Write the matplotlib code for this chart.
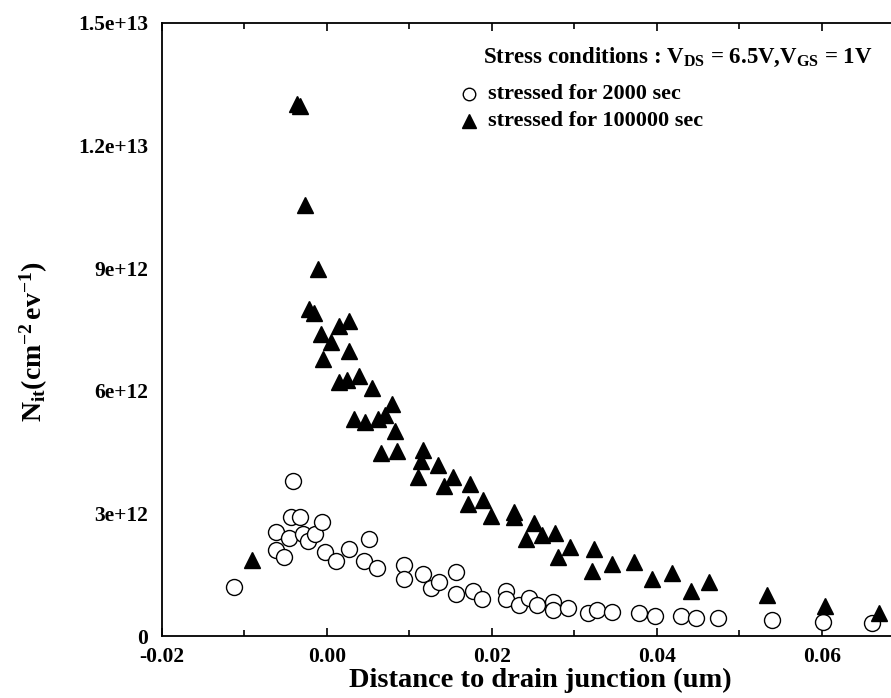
import matplotlib
matplotlib.use("Agg")
import matplotlib.pyplot as plt
from matplotlib.lines import Line2D

plt.rcParams['font.family'] = ['Liberation Serif', 'DejaVu Serif']
plt.rcParams['font.weight'] = 'bold'
plt.rcParams['mathtext.fontset'] = 'custom'
plt.rcParams['mathtext.rm'] = 'Liberation Serif:bold'
plt.rcParams['mathtext.it'] = 'Liberation Serif:bold'
plt.rcParams['mathtext.bf'] = 'Liberation Serif:bold'

# stressed for 2000 sec (open circles)
x_2000 = [-0.0113, -0.0062, -0.0062, -0.0052, -0.0046, -0.00436, -0.00416, -0.00327,
          -0.0029, -0.0023, -0.00145, -0.00065, -0.00024, 0.0011, 0.0027, 0.0045,
          0.0051, 0.0061, 0.0094, 0.0094, 0.0116, 0.0126, 0.0136, 0.0157, 0.0157,
          0.0177, 0.0188, 0.0217, 0.0217, 0.0233, 0.0245, 0.0255, 0.0274, 0.0274,
          0.0292, 0.0317, 0.0328, 0.0346, 0.0378, 0.0398, 0.0429, 0.0447, 0.0474,
          0.0540, 0.0602, 0.0661]
y_2000 = [1.19e12, 2.54e12, 2.10e12, 1.94e12, 2.41e12, 2.92e12, 3.80e12, 2.92e12,
          2.50e12, 2.33e12, 2.50e12, 2.80e12, 2.06e12, 1.84e12, 2.12e12, 1.84e12,
          2.37e12, 1.66e12, 1.74e12, 1.39e12, 1.51e12, 1.17e12, 1.33e12, 1.57e12, 1.03e12,
          1.10e12, 0.91e12, 1.11e12, 0.90e12, 0.76e12, 0.92e12, 0.76e12, 0.84e12, 0.64e12,
          0.68e12, 0.56e12, 0.64e12, 0.58e12, 0.56e12, 0.49e12, 0.49e12, 0.43e12, 0.43e12,
          0.39e12, 0.35e12, 0.33e12]

# stressed for 100000 sec (filled triangles)
x_100000 = [-0.00905, -0.00364, -0.0033, -0.0027, -0.00214, -0.0016, -0.00105, -0.00077,
            -0.00048, 0.00044, 0.00145, 0.00145, 0.00246, 0.0027, 0.0027, 0.00327,
            0.0039, 0.0046, 0.0055, 0.0062, 0.0065, 0.0070, 0.0079, 0.0083, 0.0085,
            0.0110, 0.0114, 0.0117, 0.0135, 0.0142, 0.0153, 0.0171, 0.0173, 0.0189,
            0.0199, 0.0227, 0.0227, 0.0241, 0.0251, 0.0261, 0.0276, 0.0280, 0.0295,
            0.0321, 0.0324, 0.0346, 0.0372, 0.0394, 0.0419, 0.0441, 0.0463, 0.0534,
            0.0604, 0.0670]
y_100000 = [1.86e12, 1.301e13, 1.297e13, 1.055e13, 7.99e12, 7.91e12, 8.97e12, 7.39e12,
            6.78e12, 7.19e12, 7.59e12, 6.22e12, 6.26e12, 7.72e12, 6.98e12, 5.31e12,
            6.35e12, 5.23e12, 6.06e12, 5.30e12, 4.49e12, 5.41e12, 5.68e12, 5.02e12, 4.53e12,
            3.88e12, 4.29e12, 4.54e12, 4.18e12, 3.67e12, 3.88e12, 3.23e12, 3.72e12, 3.33e12,
            2.94e12, 3.04e12, 2.90e12, 2.37e12, 2.76e12, 2.47e12, 2.53e12, 1.94e12, 2.17e12,
            1.60e12, 2.12e12, 1.75e12, 1.80e12, 1.39e12, 1.53e12, 1.11e12, 1.33e12, 1.00e12,
            0.74e12, 0.57e12]

xticks = [-0.02, 0.00, 0.02, 0.04, 0.06]
xtick_labels = ['-0.02', '0.00', '0.02', '0.04', '0.06']
yticks = [0, 3e12, 6e12, 9e12, 1.2e13, 1.5e13]
ytick_labels = ['0', '3e+12', '6e+12', '9e+12', '1.2e+13', '1.5e+13']
legend_labels = ['stressed for 2000 sec', 'stressed for 100000 sec']

W, H = 891, 698
fig = plt.figure(figsize=(W / 100, H / 100), dpi=100)
ax = fig.add_axes([162 / W, 1 - 636 / H, 1 - 162 / W, (636 - 23) / H])

ax.plot(x_2000, y_2000, linestyle='none', marker='o', markersize=11.5,
        markerfacecolor='white', markeredgecolor='black', markeredgewidth=1.0)
ax.plot(x_100000, y_100000, linestyle='none', marker='^', markersize=11.5,
        color='black')

ax.set_xlim(-0.02, 0.0684)
ax.set_ylim(0, 1.5e13)
ax.set_xticks(xticks)
ax.set_xticklabels(xtick_labels)
ax.set_xticks([-0.01, 0.01, 0.03, 0.05], minor=True)
ax.set_yticks(yticks)
ax.set_yticklabels(ytick_labels)

ax.tick_params(axis='x', which='major', direction='in', length=6, width=1.2,
               top=True, labelsize=15.5, pad=8)
ax.tick_params(axis='x', which='minor', direction='in', length=4, width=1.2, top=True)
ax.tick_params(axis='y', which='major', direction='in', length=0, labelsize=15.5, pad=10)

for s in ['left', 'bottom', 'top']:
    ax.spines[s].set_linewidth(1.3)
ax.spines['right'].set_visible(False)

ax.set_xlabel('Distance to drain junction (um)', fontsize=20.5, fontweight='bold')
ax.xaxis.set_label_coords((540 - 162) / 729, -0.052)
ax.set_ylabel(r'$\mathrm{N_{it}(cm^{-2}\,ev^{-1})}$', fontsize=20)
ax.yaxis.set_label_coords((50 - 162) / 729, (636 - 342) / 613)

fig.text(483 / W, 1 - 57 / H,
         r'Stress conditions : $\mathrm{V_{DS}}$ = 6.5V,$\mathrm{V_{GS}}$ = 1V',
         fontsize=16.5, fontweight='bold', ha='left', va='center')

# legend entries
leg_y = [94, 121]
fig.add_artist(Line2D([469 / W], [1 - leg_y[0] / H], transform=fig.transFigure,
                      marker='o', markersize=9, markerfacecolor='white',
                      markeredgecolor='black', markeredgewidth=1.0, linestyle='none'))
fig.add_artist(Line2D([469 / W], [1 - leg_y[1] / H], transform=fig.transFigure,
                      marker='^', markersize=10, color='black', linestyle='none'))
for lbl, yy in zip(legend_labels, leg_y):
    fig.text(488 / W, 1 - yy / H, lbl, fontsize=16, fontweight='bold',
             ha='left', va='center')

fig.savefig('out.png', dpi=100)
